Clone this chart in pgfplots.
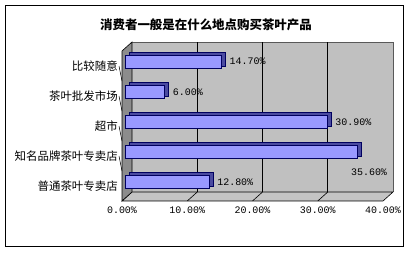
\documentclass[border=0pt]{standalone}
\usepackage{pgfplots}
\pgfplotsset{compat=1.18}
\usepackage{pgfplotstable}
\usepackage{fontspec}
\setmainfont{Noto Sans CJK SC}
\newfontfamily\mono{Liberation Mono}
\definecolor{barfill}{HTML}{9999FF}
\definecolor{barside}{HTML}{4B4BA0}
\definecolor{barline}{HTML}{000060}
\definecolor{wallback}{HTML}{C0C0C0}
\definecolor{wallleft}{HTML}{8C8C8C}
\definecolor{floorc}{HTML}{C4C4C4}

\pgfplotstableread{
y x dx dy
0 12.8 8 0
1 35.6 -7 -20
2 30.9 8 0
3 6.0 8 0
4 14.7 8 1
}\datatbl

\begin{document}
\begin{tikzpicture}
\draw[line width=0.8bp] (5bp,7bp) rectangle (403bp,248bp);
\node[font=\bfseries\fontsize{12.5}{13}\selectfont] at (206bp,228bp) {消费者一般是在什么地点购买茶叶产品};
\begin{axis}[
  at={(122bp,52bp)}, anchor=south west,
  scale only axis, width=261bp, height=150bp,
  xmin=0, xmax=40, ymin=-0.5, ymax=4.5,
  axis line style={draw=none}, major tick length=0pt,
  xtick={0,10,20,30,40},
  xticklabels={0.00\%,10.00\%,20.00\%,30.00\%,40.00\%},
  ytick={0,1,2,3,4},
  yticklabels={普通茶叶专卖店,知名品牌茶叶专卖店,超市,茶叶批发市场,比较随意},
  xticklabel style={font=\mono\fontsize{10}{10}\selectfont, inner sep=0pt, yshift=-6bp},
  yticklabel style={font=\fontsize{11.5}{12}\selectfont, inner sep=0pt, xshift=-4bp},
  clip=false,
]
% back wall
\fill[wallback] ([shift={(10bp,9bp)}]axis cs:0,-0.5) rectangle ([shift={(10bp,9bp)}]axis cs:40,4.5);
\draw[gray!70!black, line width=0.5bp] ([shift={(10bp,9bp)}]axis cs:0,4.5) -- ([shift={(10bp,9bp)}]axis cs:40,4.5) -- ([shift={(10bp,9bp)}]axis cs:40,-0.5);
% floor
\filldraw[fill=floorc, draw=black, line width=0.6bp] (axis cs:0,-0.5) -- (axis cs:40,-0.5) -- ([shift={(10bp,9bp)}]axis cs:40,-0.5) -- ([shift={(10bp,9bp)}]axis cs:0,-0.5) -- cycle;
% left wall
\filldraw[fill=wallleft, draw=black, line width=0.6bp] (axis cs:0,-0.5) -- ([shift={(10bp,9bp)}]axis cs:0,-0.5) -- ([shift={(10bp,9bp)}]axis cs:0,4.5) -- (axis cs:0,4.5) -- cycle;
% grid lines
\draw[black, line width=0.6bp] ([shift={(10bp,9bp)}]axis cs:10,-0.5) -- ([shift={(10bp,9bp)}]axis cs:10,4.5);
\draw[black, line width=0.6bp] ([shift={(10bp,9bp)}]axis cs:20,-0.5) -- ([shift={(10bp,9bp)}]axis cs:20,4.5);
\draw[black, line width=0.6bp] ([shift={(10bp,9bp)}]axis cs:30,-0.5) -- ([shift={(10bp,9bp)}]axis cs:30,4.5);
\draw[black, line width=0.6bp] (axis cs:10,-0.5) -- ([shift={(10bp,9bp)}]axis cs:10,-0.5);
\draw[black, line width=0.6bp] (axis cs:20,-0.5) -- ([shift={(10bp,9bp)}]axis cs:20,-0.5);
\draw[black, line width=0.6bp] (axis cs:30,-0.5) -- ([shift={(10bp,9bp)}]axis cs:30,-0.5);
% small category ticks
\draw[black, line width=0.5bp] (axis cs:0,0.5) -- ++(-3bp,0);
\draw[black, line width=0.5bp] (axis cs:0,1.5) -- ++(-3bp,0);
\draw[black, line width=0.5bp] (axis cs:0,2.5) -- ++(-3bp,0);
\draw[black, line width=0.5bp] (axis cs:0,3.5) -- ++(-3bp,0);
% bars: depth copy then front face
\addplot[xbar, bar width=13.5bp, fill=barside, draw=barline, line width=0.6bp, xshift=7.5bp, yshift=6.5bp, forget plot]
  table[x=x, y=y]{\datatbl};
\addplot[xbar, bar width=13.5bp, fill=barfill, draw=barline, line width=0.6bp, xshift=3.5bp, yshift=4bp,
  point meta=x,
  visualization depends on={\thisrow{dx} \as \dx},
  visualization depends on={\thisrow{dy} \as \dy},
  nodes near coords={\pgfmathprintnumber[fixed,fixed zerofill,precision=2,assume math mode=true]{\pgfplotspointmeta}\%},
  every node near coord/.append style={anchor=west, inner sep=0pt, xshift=\dx bp, yshift=\dy bp, font=\mono\fontsize{10}{10}\selectfont, text=black},
]
  table[x=x, y=y]{\datatbl};
\end{axis}
\pgfresetboundingbox
\path[use as bounding box] (0,0) rectangle (411bp,253bp);
\end{tikzpicture}
\end{document}
